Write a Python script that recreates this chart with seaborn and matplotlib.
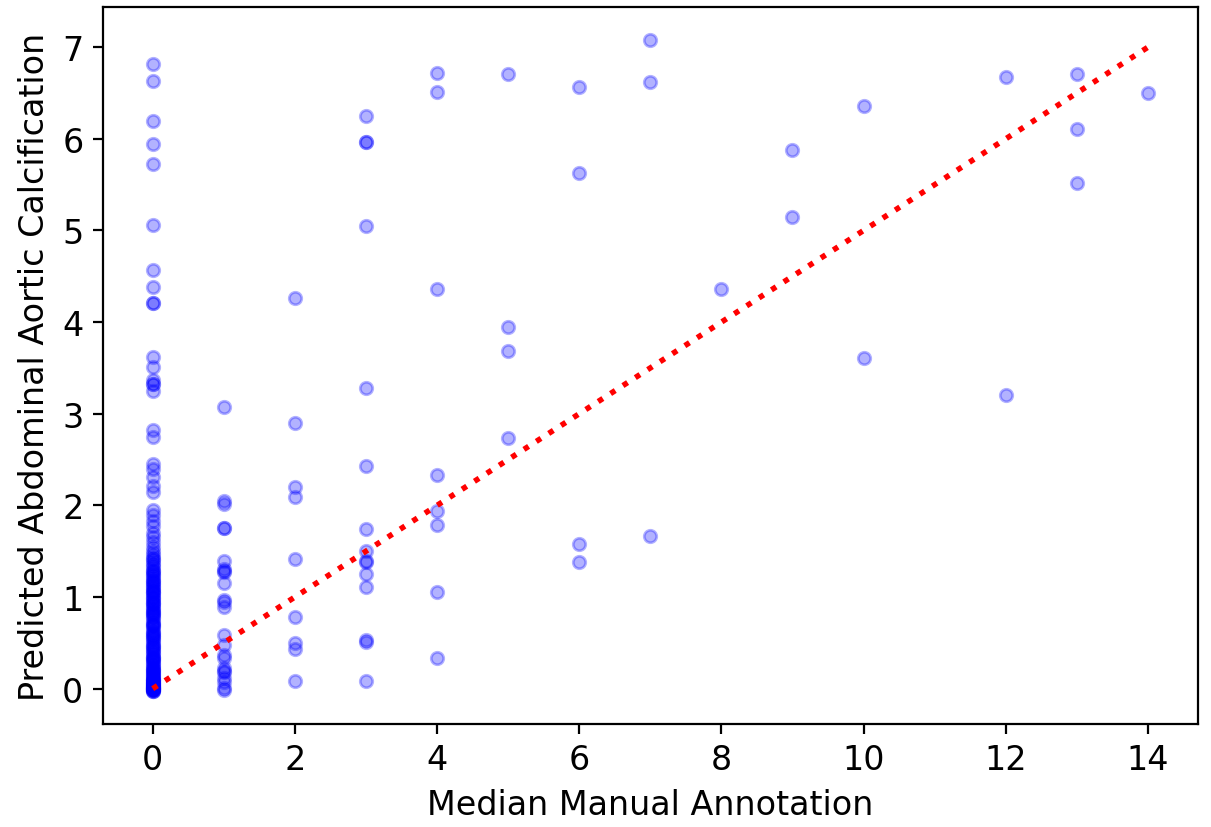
import matplotlib
matplotlib.use("Agg")
import numpy as np
import pandas as pd
import seaborn as sns
import matplotlib.pyplot as plt

# Predicted scores, grouped by the median manual annotation
pred_0 = [6.82, 6.63, 6.20, 5.94, 5.72, 5.06, 4.57, 4.38, 4.21, 4.21, 3.62,
          3.51, 3.37, 3.33, 3.32, 3.25, 2.82, 2.75, 2.45, 2.40, 2.31, 2.21,
          2.15, 1.95, 1.90, 1.83, 1.78, 1.70, 1.65, 1.60, 1.55, 1.50, 1.47,
          1.44, 1.40, 1.37, 1.33, 1.30, 1.27, 1.24, 1.20, 1.17, 1.14, 1.11,
          1.08, 1.05, 1.02, 0.99, 0.96, 0.93, 0.90, 0.87, 0.84, 0.80, 0.77,
          0.74, 0.70, 0.67, 0.64, 0.60, 0.57, 0.54, 0.50, 0.47, 0.44, 0.41,
          0.38, 0.35, 0.32, 0.30, 0.27, 0.25, 0.22, 0.20, 0.18, 0.16, 0.14,
          0.12, 0.10, 0.08, 0.07, 0.06, 0.05, 0.04, 0.03, 0.02, 0.01, 0.00,
          0.00, -0.01, -0.02, -0.03, 0.15, 0.11, 0.09, 0.05, 0.03, 0.02,
          0.01, 0.00, 0.35, 0.55, 0.85, 1.00, 1.12, 1.25,
          1.42, 1.35, 1.28, 1.22, 1.15, 1.09, 1.04, 0.98, 0.92, 0.88, 0.82,
          0.78, 0.72, 0.68, 0.62, 0.58, 0.52, 0.48, 0.42, 0.39, 0.33, 0.28,
          0.24, 0.21, 0.17, 0.13, 0.09, 0.06, 0.04, 0.02, 0.01, 0.00, -0.01,
          -0.02, 1.18, 1.06, 0.94, 0.83, 0.71, 0.61, 0.45, 0.31, 0.19, 0.07]
pred_1 = [3.07, 2.05, 2.02, 1.75, 1.75, 1.39, 1.31, 1.28, 1.27, 1.15, 0.97,
          0.95, 0.89, 0.59, 0.48, 0.37, 0.34, 0.23, 0.19, 0.18, 0.12, 0.07,
          0.01, -0.01]
pred_2 = [4.26, 2.90, 2.20, 2.09, 1.42, 0.78, 0.50, 0.43, 0.08]
pred_3 = [6.25, 5.97, 5.97, 5.05, 3.28, 2.43, 1.74, 1.50, 1.39, 1.38, 1.25,
          1.11, 0.53, 0.51, 0.08]
pred_4 = [6.72, 6.51, 4.36, 2.33, 1.94, 1.79, 1.05, 0.34]
pred_5 = [6.71, 3.95, 3.68, 2.74]
pred_6 = [6.57, 5.63, 1.58, 1.38]
pred_7 = [7.08, 6.62, 1.67]
pred_8 = [4.36]
pred_9 = [5.88, 5.15]
pred_10 = [6.36, 3.61]
pred_12 = [6.67, 3.20]
pred_13 = [6.71, 6.11, 5.52]
pred_14 = [6.50]

groups = {0: pred_0, 1: pred_1, 2: pred_2, 3: pred_3, 4: pred_4, 5: pred_5,
          6: pred_6, 7: pred_7, 8: pred_8, 9: pred_9, 10: pred_10,
          12: pred_12, 13: pred_13, 14: pred_14}

df = pd.DataFrame([(k, v) for k, vals in groups.items() for v in vals],
                  columns=["manual", "predicted"])

# reference line (manual score / 2)
line_x = [0, 14]
line_y = [0, 7]

plt.rcParams["font.size"] = 12

fig, ax = plt.subplots(figsize=(6.055, 4.14), dpi=200)
fig.subplots_adjust(left=0.085, right=0.989, bottom=0.1244, top=0.990)

sns.scatterplot(data=df, x="manual", y="predicted", color="blue",
                alpha=0.3, s=20, edgecolor="blue", linewidth=1, ax=ax)
ax.plot(line_x, line_y, "r:", linewidth=2)

ax.set_xlabel("Median Manual Annotation")
ax.set_ylabel("Predicted Abdominal Aortic Calcification")
ax.set_xticks(range(0, 15, 2))
ax.set_yticks(range(0, 8))

fig.savefig("out.png", dpi=200)
